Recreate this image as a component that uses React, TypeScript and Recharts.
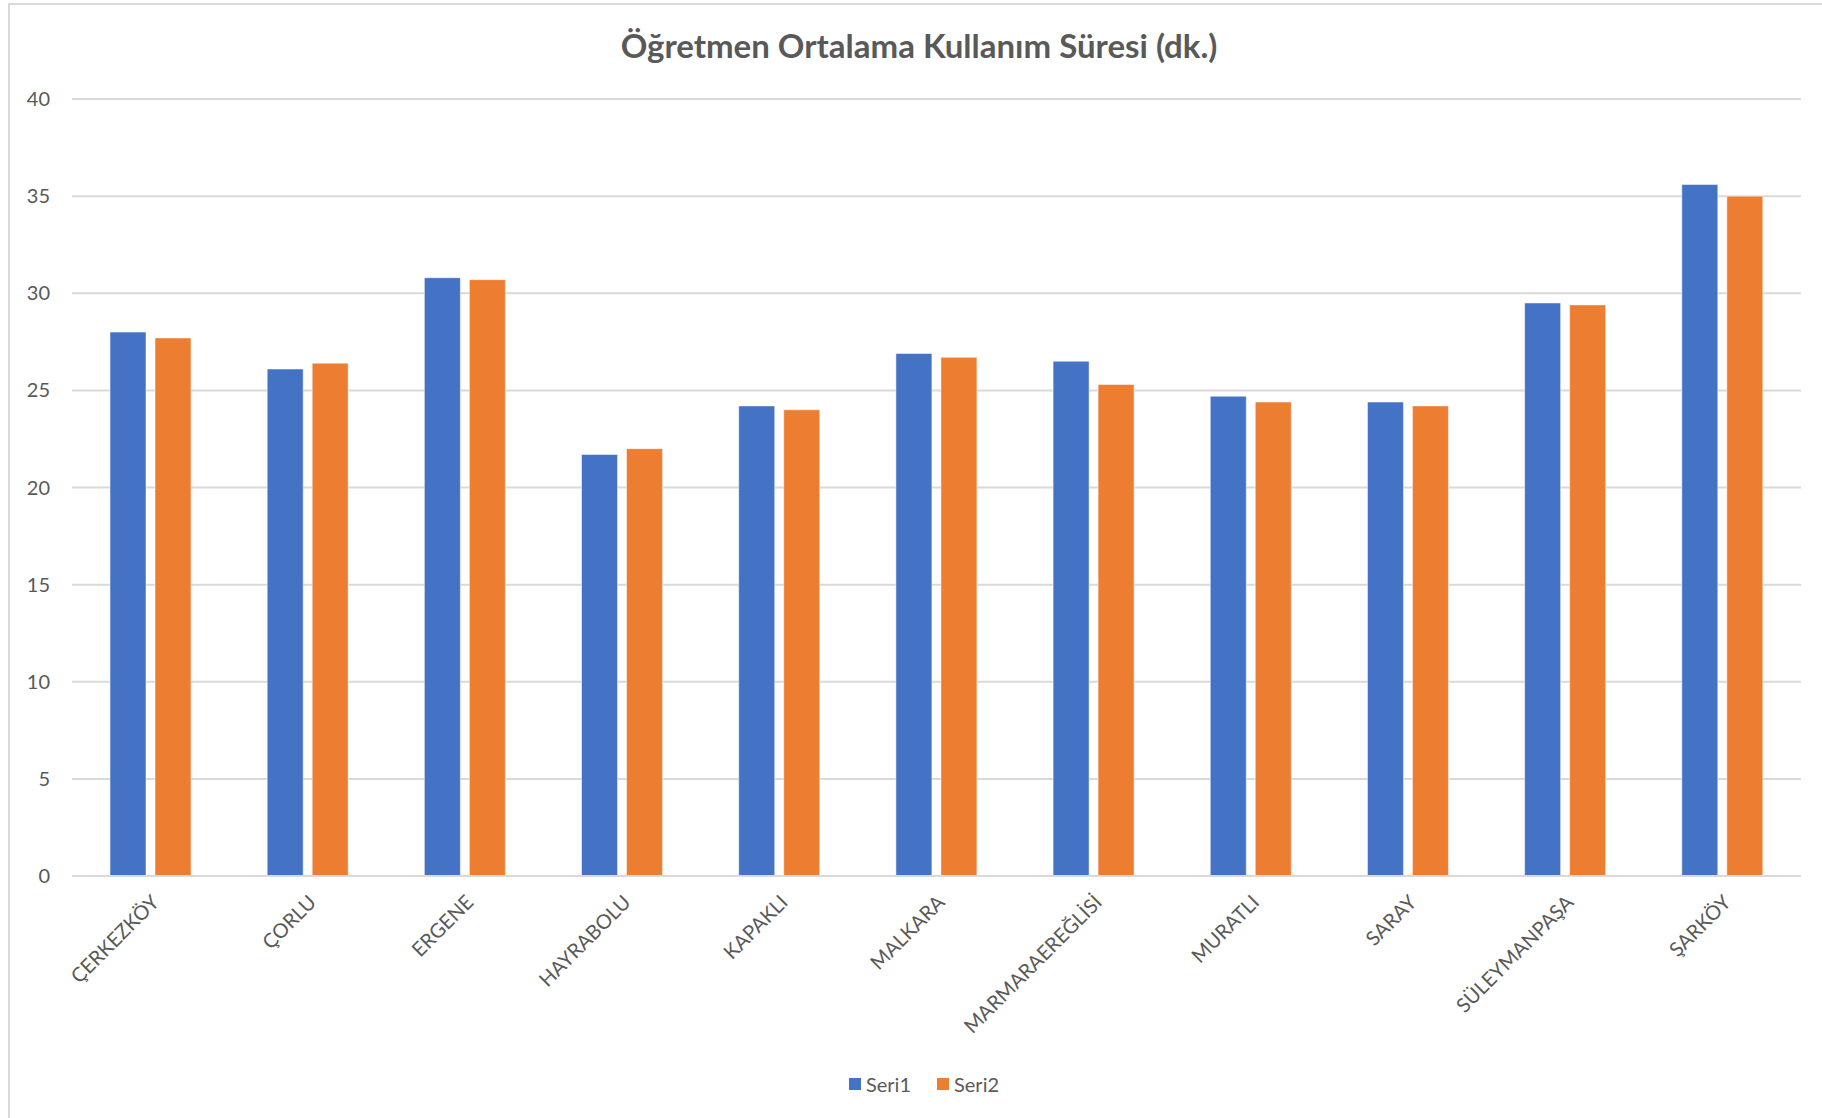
import React from "react";
import { BarChart, Bar, XAxis, YAxis, CartesianGrid, Legend } from "recharts";

const ilceler = [
  "ÇERKEZKÖY",
  "ÇORLU",
  "ERGENE",
  "HAYRABOLU",
  "KAPAKLI",
  "MALKARA",
  "MARMARAEREĞLİSİ",
  "MURATLI",
  "SARAY",
  "SÜLEYMANPAŞA",
  "ŞARKÖY",
];

const seri1 = [28.0, 26.1, 30.8, 21.7, 24.2, 26.9, 26.5, 24.7, 24.4, 29.5, 35.6];
const seri2 = [27.7, 26.4, 30.7, 22.0, 24.0, 26.7, 25.3, 24.4, 24.2, 29.4, 35.0];

const yTicks = [0, 5, 10, 15, 20, 25, 30, 35, 40];

const data = ilceler.map((ilce, i) => ({
  ilce,
  Seri1: seri1[i],
  Seri2: seri2[i],
}));

const FONT = "Lato, 'Open Sans', sans-serif";
const TEXT = "#595959";

const RotatedTick = ({ x, y, payload }: any) => (
  <g transform={`translate(${x + 4},${y + 14})`}>
    <text
      x={0}
      y={0}
      textAnchor="end"
      dominantBaseline="central"
      transform="rotate(-45)"
      fill={TEXT}
      fontSize={20}
      fontFamily={FONT}
    >
      {payload.value}
    </text>
  </g>
);

const LegendContent = () => (
  <div
    style={{
      display: "flex",
      justifyContent: "center",
      gap: 26,
      fontFamily: FONT,
      fontSize: 20,
      color: TEXT,
      paddingLeft: 26,
    }}
  >
    {[
      { name: "Seri1", color: "#4472C4" },
      { name: "Seri2", color: "#ED7D31" },
    ].map((s) => (
      <span key={s.name} style={{ display: "flex", alignItems: "center" }}>
        <span
          style={{
            width: 12,
            height: 12,
            background: s.color,
            display: "inline-block",
            marginRight: 5,
          }}
        />
        {s.name}
      </span>
    ))}
  </div>
);

export default function App() {
  return (
    <div
      style={{
        position: "relative",
        width: 1822,
        height: 1118,
        overflow: "hidden",
        background: "#fff",
      }}
    >
      <style>{"body{margin:0;overflow:hidden;}"}</style>
      {/* chart frame, only top and left edges are visible */}
      <div
        style={{
          position: "absolute",
          left: 8,
          top: 3,
          width: 1900,
          height: 1200,
          borderTop: "2px solid #d9d9d9",
          borderLeft: "2px solid #d9d9d9",
        }}
      />
      <div
        style={{
          position: "absolute",
          left: 0,
          width: 1838,
          top: 25,
          textAlign: "center",
          fontFamily: FONT,
          fontWeight: 700,
          fontSize: 33,
          color: TEXT,
        }}
      >
        Öğretmen Ortalama Kullanım Süresi (dk.)
      </div>
      <div style={{ position: "absolute", left: 0, top: 0 }}>
        <BarChart
          width={1822}
          height={1118}
          data={data}
          margin={{ top: 99, right: 21, left: 12, bottom: 58 }}
          barGap={9}
        >
          <CartesianGrid vertical={false} stroke="#d9d9d9" strokeWidth={2} />
          <XAxis
            dataKey="ilce"
            interval={0}
            height={160}
            tick={<RotatedTick />}
            tickLine={false}
            axisLine={{ stroke: "#d9d9d9", strokeWidth: 2 }}
          />
          <YAxis
            width={60}
            domain={[0, 40]}
            ticks={yTicks}
            axisLine={false}
            tickLine={false}
            tickMargin={16}
            tick={{ fill: TEXT, fontSize: 20, fontFamily: FONT }}
          />
          <Legend
            verticalAlign="bottom"
            content={<LegendContent />}
            wrapperStyle={{ position: "absolute", top: 1072, left: 0, width: 1822 }}
          />
          <Bar
            dataKey="Seri1"
            fill="#4472C4"
            barSize={36}
            stroke="#ffffff"
            strokeOpacity={0.5}
            isAnimationActive={false}
          />
          <Bar
            dataKey="Seri2"
            fill="#ED7D31"
            barSize={36}
            stroke="#ffffff"
            strokeOpacity={0.5}
            isAnimationActive={false}
          />
        </BarChart>
      </div>
    </div>
  );
}
